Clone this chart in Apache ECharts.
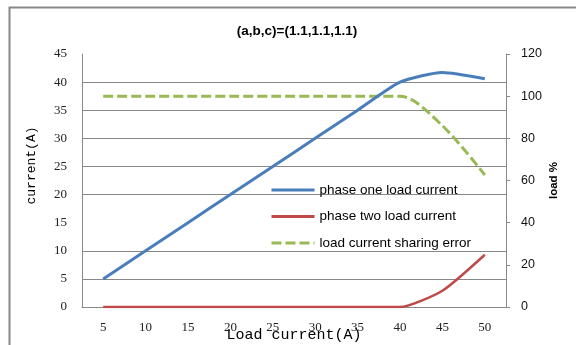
<!DOCTYPE html>
<html>
<head>
<meta charset="utf-8">
<script src="https://cdn.jsdelivr.net/npm/echarts@6/dist/echarts.min.js"></script>
<style>
html,body{margin:0;padding:0;background:#fff;}
#chart{width:576px;height:345px;}
</style>
</head>
<body>
<div id="chart"></div>
<script>
const categories = ['5','10','15','20','25','30','35','40','45','50'];
const phaseOneCurrent = [5, 10, 15, 20, 25, 30, 35, 40, 41.7, 40.6];
const phaseTwoCurrent = [0, 0, 0, 0, 0, 0, 0, 0, 2.9, 9.3];
const sharingError = [100, 100, 100, 100, 100, 100, 100, 100, 86, 62.6];
const seriesNames = ['phase one load current', 'phase two load current', 'load current sharing error'];
const titleText = '(a,b,c)=(1.1,1.1,1.1)';

const gray = '#888888';
const chart = echarts.init(document.getElementById('chart'));
chart.setOption({
  animation: false,
  title: {
    text: titleText,
    left: 292, top: 19, textAlign: 'center',
    textStyle: {fontFamily: 'Liberation Sans', fontWeight: 'bold', fontSize: 13.5, color: '#000'}
  },
  graphic: [{
    type: 'rect', left: 7, top: 5, silent: true,
    shape: {x: 0, y: 0, width: 620, height: 400},
    style: {fill: 'none', stroke: gray, lineWidth: 2}
  }],
  legend: {
    orient: 'vertical', left: 265, top: 178,
    itemWidth: 43, itemHeight: 14, itemGap: 12.5,
    itemStyle: {opacity: 0},
    lineStyle: {width: 3},
    textStyle: {fontFamily: 'Liberation Sans', fontSize: 13.5, color: '#000'},
    data: seriesNames
  },
  grid: {left: 82, right: 70, top: 54, bottom: 38, containLabel: false, outerBoundsMode: 'none'},
  xAxis: {
    type: 'category', data: categories, boundaryGap: true,
    name: 'Load current(A)', nameLocation: 'middle', nameGap: 21, nameMoveOverlap: false,
    nameTextStyle: {fontFamily: 'Liberation Mono', fontSize: 15, color: '#000'},
    axisLine: {lineStyle: {color: gray, width: 1}},
    axisTick: {show: false},
    axisLabel: {margin: 14, fontFamily: 'Liberation Serif', fontSize: 13, color: '#222'}
  },
  yAxis: [{
    type: 'value', min: 0, max: 45, interval: 5,
    name: 'current(A)', nameLocation: 'middle', nameGap: 44, nameMoveOverlap: false,
    nameTextStyle: {fontFamily: 'Liberation Mono', fontSize: 13, color: '#000', padding: [0, 0, 0, 30]},
    axisLine: {show: true, lineStyle: {color: gray}},
    axisTick: {show: false},
    axisLabel: {margin: 15, fontFamily: 'Liberation Serif', fontSize: 13, color: '#222'},
    splitLine: {show: true, lineStyle: {color: [gray, gray, gray, 'rgba(0,0,0,0)', gray, gray, gray, gray, gray, 'rgba(0,0,0,0)'], width: 1}}
  }, {
    type: 'value', min: 0, max: 120, interval: 20, position: 'right',
    name: 'load %', nameLocation: 'middle', nameGap: 42, nameRotate: 90, nameMoveOverlap: false,
    nameTextStyle: {fontFamily: 'Liberation Sans', fontWeight: 'bold', fontSize: 11.5, color: '#000'},
    axisLine: {show: true, lineStyle: {color: gray}},
    axisTick: {show: true, length: 4, lineStyle: {color: gray}},
    axisLabel: {margin: 15, fontFamily: 'Liberation Sans', fontSize: 12.5, color: '#111'},
    splitLine: {show: false}
  }],
  series: [{
    name: seriesNames[2], type: 'line', yAxisIndex: 1, data: sharingError,
    symbol: 'none', smooth: 0.3, z: 2,
    lineStyle: {color: '#98b954', width: 3, type: [10, 4]},
    itemStyle: {color: '#98b954'}
  }, {
    name: seriesNames[0], type: 'line', yAxisIndex: 0, data: phaseOneCurrent,
    symbol: 'none', smooth: 0.2, z: 3,
    lineStyle: {color: '#4a7ebb', width: 3},
    itemStyle: {color: '#4a7ebb'}
  }, {
    name: seriesNames[1], type: 'line', yAxisIndex: 0, data: phaseTwoCurrent,
    symbol: 'none', smooth: 0.2, z: 3,
    lineStyle: {color: '#be4b48', width: 2.5},
    itemStyle: {color: '#be4b48'}
  }]
});
</script>
</body>
</html>
